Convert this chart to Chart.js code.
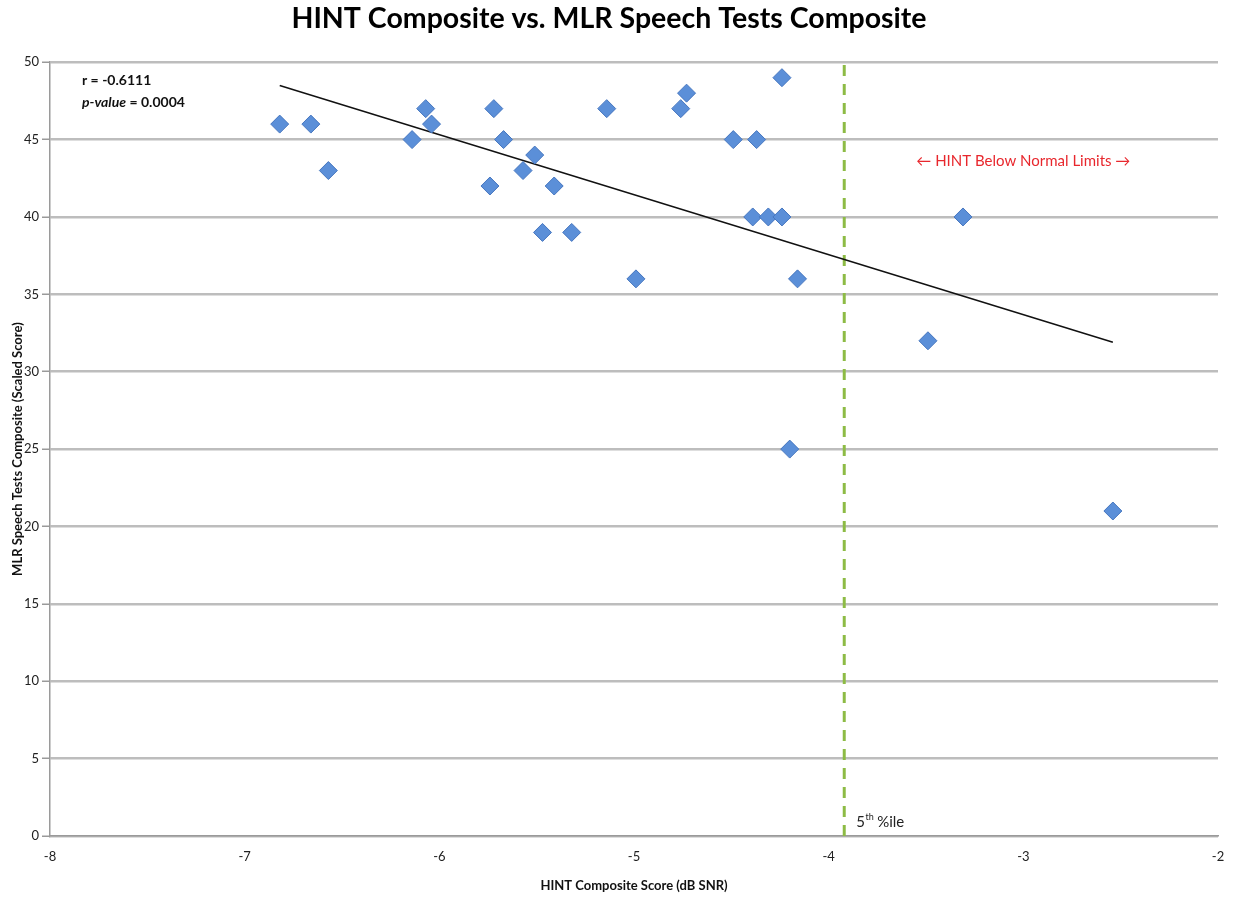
<!DOCTYPE html>
<html>
<head>
<meta charset="utf-8">
<script src="https://cdn.jsdelivr.net/npm/chart.js@4/dist/chart.umd.min.js"></script>
<style>
  html, body { margin: 0; padding: 0; background: #fff; }
  #wrap { width: 1238px; height: 899px; }
</style>
</head>
<body>
<div id="wrap"><canvas id="c" width="1238" height="899"></canvas></div>
<script>
// ---- data ----
const hintScores = [-6.82, -6.66, -6.57, -6.14, -6.07, -6.04, -5.74, -5.72, -5.67, -5.57,
                    -5.51, -5.47, -5.41, -5.32, -5.14, -4.99, -4.76, -4.73, -4.49, -4.39,
                    -4.37, -4.31, -4.24, -4.24, -4.16, -4.20, -3.49, -3.31, -2.54];
const mlrScores  = [46, 46, 43, 45, 47, 46, 42, 47, 45, 43,
                    44, 39, 42, 39, 47, 36, 47, 48, 45, 40,
                    45, 40, 49, 40, 36, 25, 32, 40, 21];
const trendX = [-6.82, -2.54];
const trendY = [48.5, 31.9];
const percentileX = -3.92;
const percentileY = [0, 50];
const xTicks = [-8, -7, -6, -5, -4, -3, -2];
const yTicks = [0, 5, 10, 15, 20, 25, 30, 35, 40, 45, 50];
const statsR = 'r = -0.6111';
const statsP = '0.0004';

const FONT = 'Lato, "Open Sans", "DejaVu Sans", sans-serif';

const scatterData = hintScores.map((x, i) => ({ x: x, y: mlrScores[i] }));
const trendData = trendX.map((x, i) => ({ x: x, y: trendY[i] }));
const pctData = percentileY.map(y => ({ x: percentileX, y: y }));

const annotations = {
  id: 'annotations',
  afterDatasetsDraw(chart) {
    const { ctx, chartArea, scales } = chart;
    ctx.save();
    // stats box
    ctx.fillStyle = '#111';
    ctx.textBaseline = 'middle';
    ctx.textAlign = 'left';
    const lx = chartArea.left + 32;
    ctx.font = 'bold 14px ' + FONT;
    ctx.fillText(statsR, lx, chartArea.top + 18);
    ctx.font = 'italic bold 14px ' + FONT;
    ctx.fillText('p-value', lx, chartArea.top + 40);
    const w = ctx.measureText('p-value').width;
    ctx.font = 'bold 14px ' + FONT;
    ctx.fillText(' = ' + statsP, lx + w, chartArea.top + 40);

    // red label
    ctx.fillStyle = '#e8272d';
    ctx.font = '15px ' + FONT;
    ctx.textAlign = 'center';
    ctx.fillText('\u2190 HINT Below Normal Limits \u2192', scales.x.getPixelForValue(-3.0), scales.y.getPixelForValue(43.6));

    // 5th %ile
    const px = scales.x.getPixelForValue(percentileX) + 12;
    const py = chartArea.bottom - 14;
    ctx.fillStyle = '#222';
    ctx.textAlign = 'left';
    ctx.font = '15px ' + FONT;
    ctx.fillText('5', px, py);
    let wx = ctx.measureText('5').width;
    ctx.font = '9px ' + FONT;
    ctx.fillText('th', px + wx + 0.5, py - 5);
    wx += ctx.measureText('th').width + 4;
    ctx.font = '15px ' + FONT;
    ctx.fillText('%ile', px + wx, py);
    ctx.restore();
  }
};

new Chart(document.getElementById('c'), {
  type: 'scatter',
  data: {
    datasets: [
      {
        label: 'Percentile',
        type: 'line',
        data: pctData,
        borderColor: '#8dbb45',
        borderWidth: 3,
        borderDash: [11, 8],
        pointRadius: 0,
        fill: false,
        order: 3
      },
      {
        label: 'Trend',
        type: 'line',
        data: trendData,
        borderColor: '#111',
        borderWidth: 1.5,
        pointRadius: 0,
        fill: false,
        order: 2
      },
      {
        label: 'Subjects',
        data: scatterData,
        pointStyle: 'rectRot',
        pointRadius: 9,
        pointHoverRadius: 9,
        backgroundColor: '#5b8fd8',
        borderColor: '#4676bf',
        borderWidth: 1,
        order: 1
      }
    ]
  },
  options: {
    responsive: false,
    animation: false,
    events: [],
    layout: { padding: { left: 0, right: 20, top: 0, bottom: 0 } },
    plugins: {
      legend: { display: false },
      tooltip: { enabled: false },
      title: {
        display: true,
        text: 'HINT Composite vs. MLR Speech Tests Composite',
        color: '#000',
        font: { family: FONT, size: 28.5, weight: 'bold' },
        padding: { top: 2, bottom: 26 }
      }
    },
    scales: {
      x: {
        type: 'linear',
        min: -8, max: -2,
        afterBuildTicks: s => { s.ticks = xTicks.map(v => ({ value: v })); },
        afterFit: s => { s.height = 63; },
        grid: { drawOnChartArea: false, drawTicks: false },
        border: { display: true, color: '#9a9a9a', width: 1.5 },
        ticks: { color: '#222', font: { family: FONT, size: 13 }, padding: 13 },
        title: {
          display: true,
          text: 'HINT Composite Score (dB SNR)',
          color: '#111',
          font: { family: FONT, size: 13, weight: 'bold' },
          padding: { top: 0, bottom: 5 }
        }
      },
      y: {
        type: 'linear',
        min: 0, max: 50,
        afterBuildTicks: s => { s.ticks = yTicks.map(v => ({ value: v })); },
        afterFit: s => { s.width = 50; },
        grid: { color: '#bdbdbd', lineWidth: 2.5, tickLength: 8, tickColor: '#9a9a9a', tickWidth: 1.5 },
        border: { display: true, color: '#9a9a9a', width: 1.5 },
        ticks: { color: '#222', font: { family: FONT, size: 13 }, padding: 3 },
        title: {
          display: true,
          text: 'MLR Speech Tests Composite (Scaled Score)',
          color: '#111',
          font: { family: FONT, size: 13, weight: 'bold' },
          padding: { top: 10, bottom: 0 }
        }
      }
    }
  },
  plugins: [annotations]
});
</script>
</body>
</html>
